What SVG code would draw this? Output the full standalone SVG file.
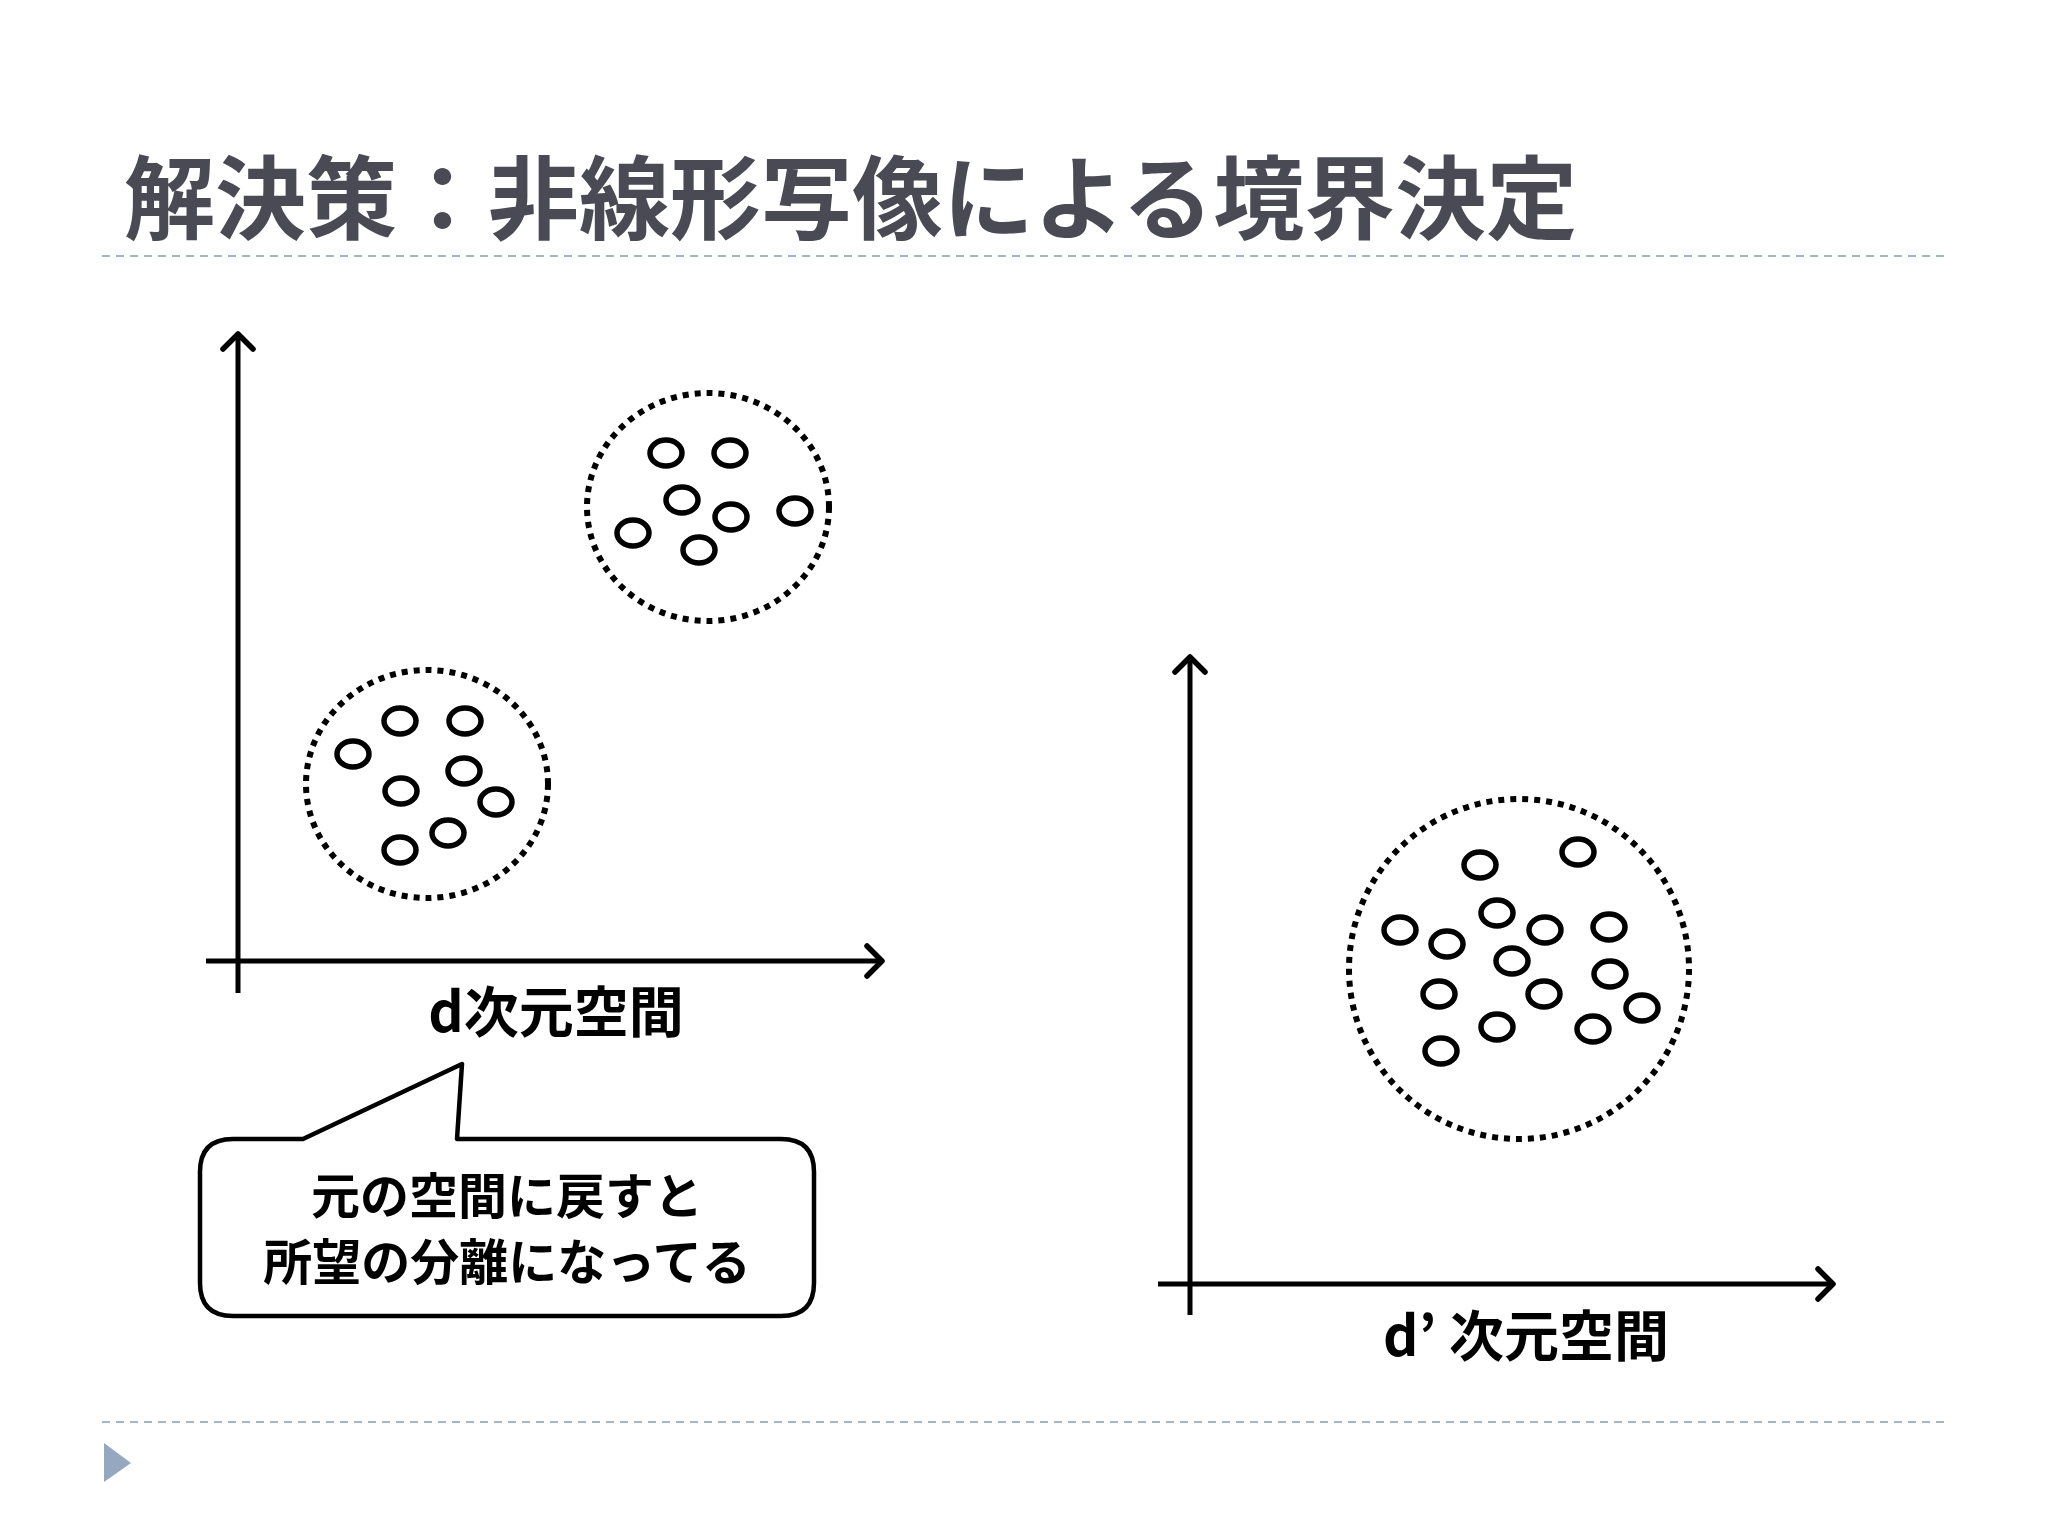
<svg xmlns="http://www.w3.org/2000/svg" width="2048" height="1536" viewBox="0 0 2048 1536">
<defs>
<style>
.ax{stroke:#000;stroke-width:5;fill:none}
.dot{stroke:#000;stroke-width:6;fill:none;stroke-dasharray:6 6}
.pt{stroke:#000;stroke-width:5.5;fill:#fff}
.sep{stroke:#a9b4c2;stroke-width:2;stroke-dasharray:8 6}
.lbl{font-family:"Noto Sans CJK JP","Liberation Sans",sans-serif;font-weight:bold;font-size:55px;fill:#000;text-anchor:middle}
.cb{font-family:"Noto Sans CJK JP",sans-serif;font-weight:bold;font-size:49px;fill:#000;text-anchor:middle}
</style>
<marker id="ar" viewBox="0 0 20 20" refX="16" refY="10" markerWidth="20" markerHeight="20" orient="auto" markerUnits="userSpaceOnUse" overflow="visible">
<path d="M3,-5 L18,10 L3,25" fill="none" stroke="#000" stroke-width="5.5" stroke-linecap="round" stroke-linejoin="round"/>
</marker>
</defs>
<rect width="2048" height="1536" fill="#fff"/>
<text x="124" y="232" font-family="Noto Sans CJK JP,sans-serif" font-weight="bold" font-size="91" fill="#4a4a55">解決策：非線形写像による境界決定</text>
<line class="sep" x1="102" y1="256" x2="1946" y2="256"/>
<line class="sep" x1="102" y1="1422" x2="1946" y2="1422"/>
<polygon points="104,1443 104,1482 131,1463" fill="#95a8c0"/>
<g id="connectors">
<line class="ax" x1="238" y1="993" x2="238" y2="336" marker-end="url(#ar)"/>
<line class="ax" x1="206" y1="961" x2="880" y2="961" marker-end="url(#ar)"/>
<line class="ax" x1="1190" y1="1315" x2="1190" y2="659" marker-end="url(#ar)"/>
<line class="ax" x1="1158" y1="1284" x2="1831" y2="1284" marker-end="url(#ar)"/>
</g>
<g id="left-label"><text class="lbl" x="556" y="1032">d次元空間</text></g>
<g id="right-label"><text class="lbl" x="1526" y="1356">d’ 次元空間</text></g>
<g id="cluster-top">
<ellipse class="dot" cx="708" cy="507" rx="121" ry="114"/>
<ellipse class="pt" cx="666" cy="453" rx="16" ry="13"/><ellipse class="pt" cx="730" cy="453" rx="16" ry="13"/>
<ellipse class="pt" cx="682" cy="500" rx="16" ry="13"/><ellipse class="pt" cx="731" cy="517" rx="16" ry="13"/>
<ellipse class="pt" cx="795" cy="511" rx="16" ry="13"/><ellipse class="pt" cx="633" cy="533" rx="16" ry="13"/>
<ellipse class="pt" cx="699" cy="550" rx="16" ry="13"/>
</g>
<g id="cluster-bottom">
<ellipse class="dot" cx="427" cy="784" rx="121" ry="114"/>
<ellipse class="pt" cx="400" cy="721" rx="16" ry="13"/><ellipse class="pt" cx="465" cy="721" rx="16" ry="13"/>
<ellipse class="pt" cx="353" cy="754" rx="16" ry="13"/><ellipse class="pt" cx="464" cy="771" rx="16" ry="13"/>
<ellipse class="pt" cx="401" cy="791" rx="16" ry="13"/><ellipse class="pt" cx="496" cy="802" rx="16" ry="13"/>
<ellipse class="pt" cx="448" cy="833" rx="16" ry="13"/><ellipse class="pt" cx="400" cy="850" rx="16" ry="13"/>
</g>
<g id="cluster-right">
<ellipse class="dot" cx="1519" cy="969" rx="170" ry="170"/>
<ellipse class="pt" cx="1480" cy="865" rx="16" ry="13"/><ellipse class="pt" cx="1578" cy="852" rx="16" ry="13"/>
<ellipse class="pt" cx="1497" cy="913" rx="16" ry="13"/><ellipse class="pt" cx="1400" cy="930" rx="16" ry="13"/>
<ellipse class="pt" cx="1447" cy="944" rx="16" ry="13"/><ellipse class="pt" cx="1545" cy="930" rx="16" ry="13"/>
<ellipse class="pt" cx="1609" cy="927" rx="16" ry="13"/><ellipse class="pt" cx="1512" cy="961" rx="16" ry="13"/>
<ellipse class="pt" cx="1610" cy="974" rx="16" ry="13"/><ellipse class="pt" cx="1439" cy="994" rx="16" ry="13"/>
<ellipse class="pt" cx="1544" cy="994" rx="16" ry="13"/><ellipse class="pt" cx="1642" cy="1008" rx="16" ry="13"/>
<ellipse class="pt" cx="1497" cy="1027" rx="16" ry="13"/><ellipse class="pt" cx="1593" cy="1029" rx="16" ry="13"/>
<ellipse class="pt" cx="1441" cy="1051" rx="16" ry="13"/>
</g>
<g id="callout">
<path d="M233,1139 H303 L462,1064 L457,1139 H781 Q814,1139 814,1172 V1283 Q814,1316 781,1316 H233 Q200,1316 200,1283 V1172 Q200,1139 233,1139 Z" fill="#fff" stroke="#000" stroke-width="4.5" stroke-linejoin="round"/>
<text class="cb" x="507" y="1214">元の空間に戻すと</text>
<text class="cb" x="507" y="1280">所望の分離になってる</text>
</g>
</svg>
